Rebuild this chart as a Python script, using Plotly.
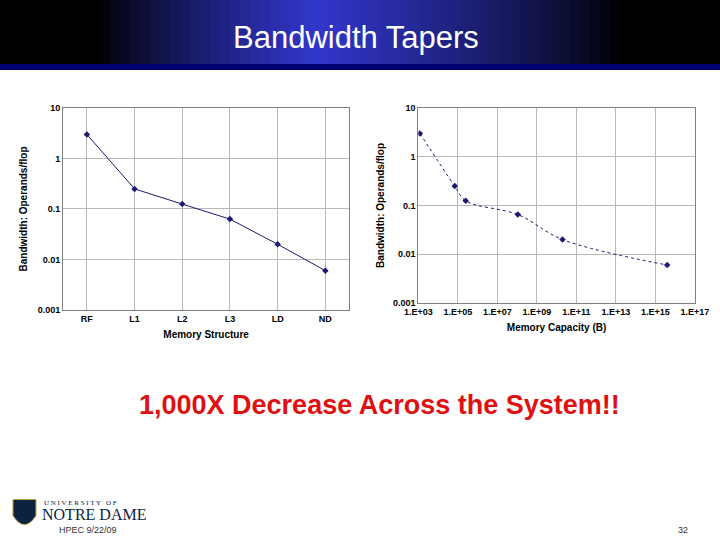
import plotly.graph_objects as go
from plotly.subplots import make_subplots

# left chart: bandwidth by memory level
levels = ["RF", "L1", "L2", "L3", "LD", "ND"]
bw_level = [3.0, 0.25, 0.125, 0.063, 0.02, 0.006]

# right chart: bandwidth by memory capacity (bytes)
capacity = [1.2e3, 7e4, 2.5e5, 1.1e8, 2e10, 4e15]
bw_capacity = [3.0, 0.25, 0.125, 0.065, 0.02, 0.006]

cap_ticks = [1e3, 1e5, 1e7, 1e9, 1e11, 1e13, 1e15, 1e17]
cap_labels = ["1.E+03", "1.E+05", "1.E+07", "1.E+09", "1.E+11", "1.E+13", "1.E+15", "1.E+17"]
bw_ticks = [0.001, 0.01, 0.1, 1, 10]
bw_labels = ["0.001", "0.01", "0.1", "1", "10"]

fig = make_subplots(rows=1, cols=2)
fnt = dict(family="Liberation Sans, Arial", size=9, color="black")
tfnt = dict(family="Liberation Sans, Arial", size=10, color="black")

fig.add_trace(go.Scatter(x=levels, y=bw_level, mode="lines+markers",
                         line=dict(color="#1a1a6e", width=1),
                         marker=dict(symbol="diamond", size=5, color="#1a1a6e"),
                         showlegend=False), row=1, col=1)
fig.add_trace(go.Scatter(x=capacity, y=bw_capacity, mode="lines+markers",
                         line=dict(color="#1a1a6e", width=1, dash="dot", shape="spline"),
                         marker=dict(symbol="diamond", size=5, color="#1a1a6e"),
                         showlegend=False), row=1, col=2)

axis_common = dict(showgrid=True, gridcolor="#b8b8b8", gridwidth=1, showline=True,
                   linecolor="#808080", tickfont=fnt, ticks="", zeroline=False,
                   automargin=False, mirror=True)
fig.update_xaxes(domain=[0.0875, 0.485], **axis_common, row=1, col=1,
                 title=dict(text="<b>Memory Structure</b>", font=tfnt, standoff=8),
                 tickprefix="<b>", ticksuffix="</b>", range=[-0.5, 5.5])
fig.update_yaxes(domain=[0.426, 0.8], type="log", range=[-3, 1], tickvals=bw_ticks,
                 ticktext=["<b>%s</b>" % t for t in bw_labels], **axis_common, row=1, col=1,
                 title=dict(text="<b>Bandwidth: Operands/flop</b>", font=tfnt, standoff=8))
fig.update_xaxes(domain=[0.581, 0.965], type="log", range=[3, 17], tickvals=cap_ticks,
                 ticktext=["<b>%s</b>" % t for t in cap_labels], **axis_common, row=1, col=2,
                 title=dict(text="<b>Memory Capacity (B)</b>", font=tfnt, standoff=8))
fig.update_yaxes(domain=[0.439, 0.8], type="log", range=[-3, 1], tickvals=bw_ticks,
                 ticktext=["<b>%s</b>" % t for t in bw_labels], **axis_common, row=1, col=2,
                 title=dict(text="<b>Bandwidth: Operands/flop</b>", font=tfnt, standoff=6))

# title banner: black edges fading to blue in the middle
shapes = []
n = 72
for i in range(n):
    c = (i + 0.5) / n
    t = abs(c - 0.44) / (0.30 if c < 0.44 else 0.42)
    k = max(0.0, 1 - t) ** 0.8
    col = "rgb(%d,%d,%d)" % (int(50 * k), int(55 * k), int(205 * k))
    shapes.append(dict(type="rect", xref="paper", yref="paper", x0=i / n, x1=(i + 1) / n + 0.002,
                       y0=1 - 64 / 540, y1=1, fillcolor=col, line=dict(width=0), layer="below"))
shapes.append(dict(type="rect", xref="paper", yref="paper", x0=0, x1=1,
                   y0=1 - 70 / 540, y1=1 - 64 / 540, fillcolor="#000070", line=dict(width=0)))
# shield of the logo
shapes.append(dict(type="path", xref="paper", yref="paper",
                   path="M 0.018 0.075 L 0.05 0.075 L 0.05 0.045 Q 0.034 0.012 0.018 0.045 Z",
                   fillcolor="#0c2340", line=dict(color="#c9a54a", width=1)))


def note(text, x, ypx, size, color, family="Liberation Sans, Arial", anchor="center"):
    return dict(text=text, x=x, y=1 - ypx / 540, xref="paper", yref="paper", xanchor=anchor,
                yanchor="middle", showarrow=False, font=dict(family=family, size=size, color=color))


fig.update_layout(
    width=720, height=540, margin=dict(l=0, r=0, t=0, b=0, autoexpand=False),
    paper_bgcolor="white", plot_bgcolor="white", shapes=shapes,
    annotations=[
        note("Bandwidth Tapers", 0.495, 37, 31, "white"),
        note("<b>1,000X Decrease Across the System!!</b>", 0.527, 405, 27, "#e01010"),
        note("U N I V E R S I T Y   O F", 0.058, 503, 7, "#0c2340", "Liberation Serif", "left"),
        note("NOTRE DAME", 0.056, 514, 16, "#0c2340", "Liberation Serif", "left"),
        note("HPEC 9/22/09", 0.079, 530, 9, "#333", anchor="left"),
        note("32", 0.948, 530, 9, "#333"),
    ],
)

fig.write_html("out.html", config={"displayModeBar": False},
               post_script="document.body.style.margin='0';")
